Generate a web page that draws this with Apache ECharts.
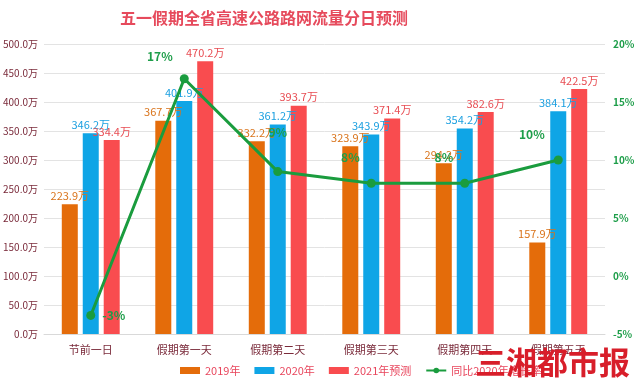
<!DOCTYPE html>
<html><head><meta charset="utf-8">
<script src="https://cdn.jsdelivr.net/npm/echarts@6/dist/echarts.min.js"></script>
<style>html,body{margin:0;padding:0;background:#fff}#c{width:640px;height:384px}</style>
</head><body><div id="c"></div>
<script>
const categories = ['节前一日','假期第一天','假期第二天','假期第三天','假期第四天','假期第五天'];
const v2019 = [223.9, 367.7, 332.2, 323.9, 294.2, 157.9];
const v2020 = [346.2, 401.9, 361.2, 343.9, 354.2, 384.1];
const v2021 = [334.4, 470.2, 393.7, 371.4, 382.6, 422.5];
const growth = [-3.4, 17.0, 9.0, 8.0, 8.0, 10.0];
const leftTicks = {min:0, max:500, interval:50};
const rightTicks = {min:-5, max:20, interval:5};

// label placement per point (style only)
const growthLabelStyle = [
  {position:'right', offset:[2,0]},
  {position:'left', offset:[-2,-22]},
  {position:'top', offset:[0,-24]},
  {position:'left', offset:[-2,-26]},
  {position:'left', offset:[-2,-26]},
  {position:'left', offset:[-4,-26]}
];

const chart = echarts.init(document.getElementById('c'));
const font = '"Noto Sans CJK SC", "Noto Sans", sans-serif';
function barSeries(name, data, color, labelColor){
  return {name, type:'bar', data, barWidth:16, barGap:'31%', itemStyle:{color},
    label:{show:true, position:'top', distance:3, color:labelColor, fontSize:11, fontFamily:font,
      formatter:p=>p.value.toFixed(1)+'万'}};
}
chart.setOption({
  animation:false,
  backgroundColor:'#fff',
  textStyle:{fontFamily:font},
  title:{text:'五一假期全省高速公路路网流量分日预测', left:115, top:5,
    textStyle:{color:'#e64a5c', fontSize:16, fontWeight:'bold', fontFamily:'"Noto Sans CJK SC", serif'}},
  grid:{left:44, right:35, top:44, bottom:50},
  legend:{bottom:3, left:175, itemWidth:20, itemHeight:7, itemGap:14,
    textStyle:{color:'#e8455c', fontSize:11},
    data:[{name:'2019年',icon:'rect'},{name:'2020年',icon:'rect'},{name:'2021年预测',icon:'rect'},{name:'同比2020年增长率'}]},
  xAxis:{type:'category', data:categories,
    axisLine:{lineStyle:{color:'#d9d9d9'}}, axisTick:{show:false},
    axisLabel:{color:'#7a2a3a', fontSize:11, margin:10}},
  yAxis:[
    {type:'value', min:leftTicks.min, max:leftTicks.max, interval:leftTicks.interval,
      axisLabel:{color:'#7a2a3a', fontSize:10, margin:6, formatter:v=>v.toFixed(1)+'万'},
      splitLine:{lineStyle:{color:'#e3e3e3'}}, axisLine:{show:false}, axisTick:{show:false}},
    {type:'value', min:rightTicks.min, max:rightTicks.max, interval:rightTicks.interval,
      axisLabel:{color:'#1e9e4a', fontSize:10, fontWeight:'bold', margin:8, formatter:v=>v+'%'},
      splitLine:{show:false}, axisLine:{show:false}, axisTick:{show:false}}
  ],
  series:[
    barSeries('2019年', v2019, '#e46c0a', '#d9731a'),
    barSeries('2020年', v2020, '#0fa5e6', '#1a9fe0'),
    barSeries('2021年预测', v2021, '#f94c4f', '#e84c52'),
    {name:'同比2020年增长率', type:'line', yAxisIndex:1,
      data:growth.map((v,i)=>({value:v, label:growthLabelStyle[i]})),
      lineStyle:{color:'#1a9c3e', width:3}, itemStyle:{color:'#1a9c3e'},
      symbol:'circle', symbolSize:9,
      label:{show:true, color:'#1e9e4a', fontSize:12, fontWeight:'bold',
        formatter:p=>Math.round(p.value)+'%'},
      z:5}
  ],
  graphic:[{type:'text', right:10, bottom:6, z:100,
    style:{text:'三湘都市报', fill:'#d81e2a', font:'bold 31px "Noto Sans CJK SC", sans-serif'}}]
});
</script></body></html>
